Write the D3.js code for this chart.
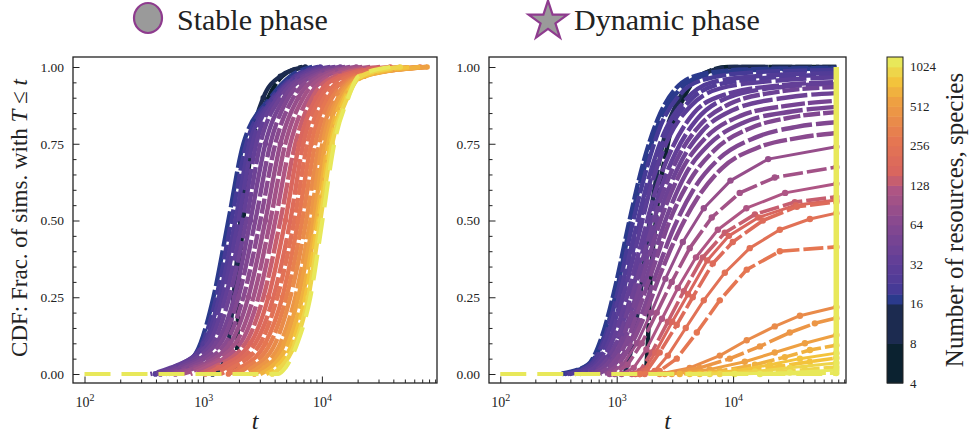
<!DOCTYPE html>
<html>
<head>
<meta charset="utf-8">
<script src="https://cdn.jsdelivr.net/npm/d3@7"></script>
<style>
  html, body { margin: 0; padding: 0; background: #ffffff; }
  svg { display: block; }
</style>
</head>
<body>
<svg id="fig" width="974" height="438"></svg>
<script>
// ---------------- data ----------------
// species / resource counts that appear in the colour bar
const speciesLevels = [4, 8, 16, 19, 23, 27, 32, 38, 45, 54, 64, 76, 91, 108, 128, 152, 181, 215, 256, 304, 362, 431, 512, 609, 724, 861, 1024];
const colorbarTicks = [4, 8, 16, 32, 64, 128, 256, 512, 1024];
const yTicks = [0, 0.25, 0.5, 0.75, 1];
const xTicks = [100, 1000, 10000];
const recordStart = 100;      // first logged time

// Stable phase: time t at which each CDF reaches the levels below
const cdfLevels = [0, 0.02, 0.1, 0.25, 0.5, 0.75, 0.9, 0.97, 1];
const stableSpecies = [4, 8, 16, 19, 23, 27, 32, 38, 45, 54, 64, 76, 91, 108, 128, 152, 181, 215, 256, 304, 362, 431, 512, 609, 724, 861, 1024];
const stableTimes = [
  [1760, 1870, 1940, 1980, 2180, 2600, 3540, 4640, 6840],
  [1200, 1400, 1630, 1800, 2060, 2500, 3210, 4470, 7250],
  [510, 670, 950, 1220, 1630, 2180, 3680, 5420, 8300],
  [436, 618, 985, 1290, 1730, 2310, 3820, 5860, 9330],
  [396, 583, 1020, 1370, 1870, 2450, 3970, 6090, 9690],
  [381, 550, 1060, 1450, 1980, 2600, 4050, 6210, 10700],
  [359, 530, 1110, 1540, 2140, 2800, 4210, 6580, 11800],
  [396, 583, 1200, 1660, 2310, 3030, 4470, 6970, 13000],
  [436, 643, 1290, 1830, 2500, 3340, 4830, 7540, 14300],
  [481, 708, 1400, 1980, 2750, 3680, 5210, 8300, 15700],
  [530, 780, 1540, 2180, 3030, 4050, 5740, 8970, 17300],
  [583, 860, 1690, 2400, 3340, 4470, 6330, 9690, 19500],
  [668, 947, 1870, 2650, 3680, 4920, 6970, 10700, 21900],
  [780, 1040, 2060, 2920, 4050, 5420, 7680, 11800, 25600],
  [911, 1200, 2270, 3210, 4470, 5970, 8300, 13000, 31000],
  [1040, 1340, 2500, 3540, 4920, 6450, 8970, 14300, 37700],
  [1200, 1540, 2750, 3900, 5420, 6970, 9690, 15700, 45700],
  [1400, 1760, 3030, 4210, 5860, 7540, 10500, 17300, 55500],
  [1630, 2060, 3340, 4640, 6330, 8140, 11300, 19100, 67300],
  [1870, 2310, 3680, 5020, 6840, 8800, 12200, 20300, 74200],
  [2140, 2600, 4050, 5420, 7390, 9510, 13000, 21100, 77000],
  [2400, 2920, 4470, 5970, 7990, 10100, 13700, 21900, 77000],
  [2700, 3280, 4830, 6330, 8470, 10700, 14300, 22800, 77000],
  [3030, 3680, 5210, 6840, 8970, 11300, 15100, 23200, 67300],
  [3400, 4050, 5630, 7250, 9330, 11800, 15700, 21900, 55500],
  [3820, 4470, 5970, 7680, 9690, 12200, 16400, 21100, 45700],
  [4300, 4920, 6210, 7990, 10100, 12700, 16700, 20300, 37700]
];

// Dynamic phase: (t, CDF) samples of each curve
const dynamicSpecies = [4, 8, 16, 16, 19, 23, 23, 27, 32, 32, 38, 38, 45, 45, 54, 54, 64, 76, 91, 108, 128, 152, 181, 215, 256, 362, 431, 512, 609, 724, 724, 861, 861, 1024, 1024, 1024];
const dynamicTimes = [
  [1780, 1850, 1920, 2170, 2750, 3770, 5170, 9000, 77000],
  [1170, 1370, 1580, 1920, 2490, 3480, 4970, 10300, 77000],
  [324, 563, 758, 980, 1270, 1670, 2250, 3220, 5170, 12600, 77000],
  [340, 575, 775, 1010, 1310, 1720, 2310, 3350, 5400, 14000, 77000],
  [357, 586, 789, 1040, 1350, 1780, 2390, 3480, 5710, 15400, 77000],
  [394, 610, 820, 1080, 1430, 1890, 2590, 3840, 6560, 18700, 77000],
  [380, 620, 850, 1120, 1480, 1950, 2700, 4000, 7000, 20000, 77000],
  [436, 647, 871, 1150, 1520, 2000, 2800, 4240, 7690, 22800, 77000],
  [481, 687, 924, 1220, 1610, 2170, 3030, 4590, 8490, 25200, 77000],
  [520, 720, 980, 1290, 1700, 2280, 3200, 4900, 9000, 26000, 77000],
  [563, 758, 1020, 1350, 1780, 2390, 3410, 5170, 9370, 25200, 77000],
  [590, 800, 1060, 1400, 1850, 2480, 3550, 5400, 10000, 28000, 77000],
  [610, 820, 1080, 1430, 1890, 2540, 3690, 5830, 11400, 30700, 77000],
  [650, 860, 1130, 1500, 1980, 2680, 3900, 6300, 12500, 32000, 77000],
  [687, 906, 1200, 1580, 2080, 2860, 4240, 6960, 13900, 30700, 77000],
  [720, 950, 1260, 1660, 2200, 3050, 4550, 7500, 15500, 35000, 77000],
  [789, 1020, 1350, 1780, 2340, 3280, 4880, 8000, 17000, 37500, 77000],
  [870, 1130, 1490, 1980, 2620, 3700, 5600, 9500, 20000, 77000],
  [961, 1240, 1640, 2210, 2970, 4240, 6560, 11400, 22800, 77000],
  [1100, 1400, 1800, 2450, 3350, 4800, 7400, 13000, 28000, 77000],
  [1350, 1580, 2000, 2750, 3770, 5490, 8490, 15400, 33900, 77000],
  [1450, 1700, 2150, 3000, 4100, 6000, 9200, 16500, 34500, 77000],
  [1580, 1810, 2340, 3280, 4500, 6690, 9940, 18000, 35300, 77000],
  [1740, 2120, 2750, 3920, 5600, 8490, 13900, 25200, 45700, 77000],
  [1580, 2340, 3280, 4880, 7690, 13100, 25200, 77000],
  [2340, 4240, 7690, 13100, 22800, 37500, 77000],
  [2590, 5170, 9370, 17000, 30700, 50400, 77000],
  [2970, 6300, 12600, 22800, 41400, 77000],
  [3480, 7690, 15400, 27800, 45700, 77000],
  [4240, 10300, 20700, 37500, 77000],
  [5170, 12600, 25200, 45700, 77000],
  [6300, 15400, 30700, 77000],
  [7690, 20700, 41400, 77000],
  [10300, 30700, 77000],
  [17000, 77000],
  [100, 77000, 77000]
];
const dynamicFractions = [
  [0, 0.1, 0.25, 0.5, 0.75, 0.9, 0.97, 1, 1],
  [0, 0.1, 0.25, 0.5, 0.75, 0.9, 0.97, 1, 1],
  [0, 0.03, 0.13, 0.29, 0.49, 0.68, 0.83, 0.93, 0.975, 0.992, 0.997],
  [0, 0.03, 0.12, 0.28, 0.49, 0.67, 0.82, 0.92, 0.97, 0.99, 0.995],
  [0, 0.03, 0.12, 0.28, 0.48, 0.66, 0.81, 0.91, 0.96, 0.983, 0.99],
  [0, 0.03, 0.12, 0.27, 0.46, 0.64, 0.79, 0.89, 0.95, 0.972, 0.98],
  [0, 0.03, 0.11, 0.26, 0.45, 0.63, 0.78, 0.88, 0.94, 0.965, 0.975],
  [0, 0.03, 0.11, 0.26, 0.44, 0.62, 0.77, 0.87, 0.93, 0.955, 0.967],
  [0, 0.03, 0.11, 0.25, 0.42, 0.6, 0.74, 0.85, 0.91, 0.94, 0.951],
  [0, 0.03, 0.1, 0.24, 0.41, 0.58, 0.72, 0.83, 0.9, 0.935, 0.945],
  [0, 0.03, 0.11, 0.25, 0.41, 0.57, 0.71, 0.81, 0.88, 0.92, 0.935],
  [0, 0.03, 0.1, 0.23, 0.39, 0.55, 0.69, 0.79, 0.86, 0.9, 0.915],
  [0, 0.03, 0.1, 0.23, 0.38, 0.53, 0.67, 0.77, 0.84, 0.875, 0.89],
  [0, 0.03, 0.1, 0.22, 0.36, 0.51, 0.65, 0.75, 0.82, 0.855, 0.87],
  [0, 0.03, 0.1, 0.22, 0.35, 0.5, 0.63, 0.73, 0.8, 0.835, 0.853],
  [0, 0.03, 0.09, 0.2, 0.33, 0.47, 0.6, 0.7, 0.77, 0.805, 0.82],
  [0, 0.03, 0.1, 0.2, 0.32, 0.45, 0.57, 0.67, 0.74, 0.77, 0.785],
  [0, 0.03, 0.1, 0.2, 0.31, 0.43, 0.54, 0.63, 0.7, 0.74],
  [0, 0.03, 0.1, 0.2, 0.3, 0.41, 0.51, 0.59, 0.64, 0.674],
  [0, 0.02, 0.08, 0.18, 0.28, 0.38, 0.47, 0.54, 0.59, 0.62],
  [0, 0.01, 0.07, 0.17, 0.27, 0.38, 0.46, 0.52, 0.56, 0.577],
  [0, 0.01, 0.07, 0.17, 0.26, 0.37, 0.45, 0.51, 0.55, 0.567],
  [0, 0.01, 0.07, 0.16, 0.25, 0.36, 0.43, 0.5, 0.545, 0.56],
  [0, 0.01, 0.06, 0.15, 0.24, 0.33, 0.41, 0.47, 0.505, 0.524],
  [0, 0.01, 0.05, 0.135, 0.24, 0.34, 0.4, 0.414],
  [0, 0.02, 0.06, 0.11, 0.155, 0.19, 0.218],
  [0, 0.02, 0.05, 0.09, 0.135, 0.165, 0.182],
  [0, 0.015, 0.04, 0.07, 0.1, 0.127],
  [0, 0.01, 0.03, 0.055, 0.078, 0.094],
  [0, 0.01, 0.03, 0.05, 0.068],
  [0, 0.01, 0.025, 0.04, 0.052],
  [0, 0.008, 0.02, 0.036],
  [0, 0.006, 0.014, 0.023],
  [0, 0.005, 0.013],
  [0, 0.003],
  [0, 0, 1]
];

// colour map (dark navy -> purple -> orange -> yellow), position on log2 axis
const cmapStops = [0, 0.125, 0.25, 0.285, 0.375, 0.5, 0.6, 0.645, 0.75, 0.875, 0.94, 1];
const cmapColors = ['#0b2230', '#1c2b50', '#2b3a8c', '#4a3a97', '#633f97', '#8a4a8f', '#b05683', '#d8645f', '#e57652', '#eea042', '#f3c43c', '#e8e85a'];

// ---------------- drawing ----------------
const serif = '"Liberation Serif", "DejaVu Serif", serif';
const ink = '#222222';
const svg = d3.select('#fig');

const cmap = d3.scaleLinear().domain(cmapStops).range(cmapColors).interpolate(d3.interpolateRgb);
const colorOf = n => cmap((Math.log2(n) - 2) / 8);

const yTop = 57, yBot = 383;
const tDomain = [80, 93300];
const y = d3.scaleLinear().domain([-0.0293, 1.0326]).range([yBot, yTop]);

function makePanel(x0, x1, id) {
  const x = d3.scaleLog().domain(tDomain).range([x0, x1]);
  svg.append('clipPath').attr('id', id).append('rect')
    .attr('x', x0).attr('y', yTop).attr('width', x1 - x0).attr('height', yBot - yTop);
  const g = svg.append('g');
  const plot = g.append('g').attr('clip-path', `url(#${id})`);
  return { x, g, plot, x0, x1 };
}

function drawAxes(p) {
  const { x, g, x0, x1 } = p;
  // y axis, ticks pointing inward
  const minorY = d3.range(1, 20).map(k => k * 0.05).filter(v => Math.abs(v * 4 - Math.round(v * 4)) > 1e-6);
  g.append('g').attr('transform', `translate(${x0},0)`)
    .call(d3.axisLeft(y).tickValues(minorY).tickSize(-3.5).tickFormat(''))
    .call(a => a.select('.domain').remove());
  const ya = g.append('g').attr('transform', `translate(${x0},0)`)
    .call(d3.axisLeft(y).tickValues(yTicks).tickSize(-6.5).tickPadding(9).tickFormat(d3.format('.2f')));
  ya.select('.domain').remove();
  ya.selectAll('text').attr('font-family', serif).attr('font-size', 13.5).attr('fill', ink);

  // x axis (log), ticks pointing inward
  const minorX = [];
  [100, 1000, 10000].forEach(dec => { for (let k = 2; k <= 9; k++) minorX.push(k * dec); });
  g.append('g').attr('transform', `translate(0,${yBot})`)
    .call(d3.axisBottom(x).tickValues(minorX.filter(v => v < tDomain[1])).tickSize(-3.5).tickFormat(''))
    .call(a => a.select('.domain').remove());
  const xa = g.append('g').attr('transform', `translate(0,${yBot})`)
    .call(d3.axisBottom(x).tickValues(xTicks).tickSize(-6.5).tickFormat(''));
  xa.select('.domain').remove();
  g.selectAll('.tick line').attr('stroke', ink).attr('stroke-width', 1);
  xa.selectAll('.tick').append('text')
    .attr('y', 24).attr('text-anchor', 'middle').attr('fill', ink)
    .attr('font-family', serif).attr('font-size', 14)
    .each(function (d) {
      const t = d3.select(this);
      t.append('tspan').text('10');
      t.append('tspan').attr('font-size', 10).attr('dy', -6).text(String(Math.round(Math.log10(d))));
    });

  // frame
  g.append('rect').attr('x', x0).attr('y', yTop).attr('width', x1 - x0).attr('height', yBot - yTop)
    .attr('fill', 'none').attr('stroke', ink).attr('stroke-width', 1.3);

  // axis label
  g.append('text').attr('x', (x0 + x1) / 2).attr('y', 429).attr('text-anchor', 'middle')
    .attr('font-family', serif).attr('font-style', 'italic').attr('font-size', 24).attr('fill', ink).text('t');
}

function drawCurve(p, pts, n, style) {
  const { x, plot } = p;
  const col = colorOf(n);
  const line = d3.line().x(d => x(d[0])).y(d => y(d[1])).curve(style.curve || d3.curveLinear);
  plot.append('path').datum(pts)
    .attr('d', line).attr('fill', 'none').attr('stroke', col)
    .attr('stroke-width', style.width).attr('stroke-dasharray', style.dash || null)
    .attr('stroke-dashoffset', style.offset || 0)
    .attr('stroke-linejoin', 'round');
  if (style.markers) {
    plot.append('g').selectAll('circle').data(pts).join('circle')
      .attr('cx', d => x(d[0])).attr('cy', d => y(d[1])).attr('r', style.markers).attr('fill', col);
  }
}

// ---- panel 1 : stable phase ----
const left = makePanel(73, 437, 'clipL');
const leftDash = ['22 3', null, '36 4', '15 3', null, '29 3', '44 5'];
stableSpecies.forEach((n, i) => {
  let pts = stableTimes[i].map((t, j) => [t, cdfLevels[j]]);
  if (n === 1024) pts = [[recordStart, 0]].concat(pts);
  const k = i % leftDash.length;
  const style = n === 1024
    ? { width: 4.2, dash: '26 11', curve: d3.curveMonotoneX }
    : { width: 4.4, dash: leftDash[k], offset: i * 7, markers: leftDash[k] ? 0 : 2.8, curve: d3.curveMonotoneX };
  drawCurve(left, pts, n, style);
});
drawAxes(left);

// ---- panel 2 : dynamic phase ----
const right = makePanel(489, 846, 'clipR');
const rightDash = ['24 3', '40 4', '17 3', '31 4'];
dynamicSpecies.forEach((n, i) => {
  const pts = dynamicTimes[i].map((t, j) => [t, dynamicFractions[i][j]]);
  if (i === dynamicSpecies.length - 1) {
    // runs that never finished: flat at zero, then everything counted at the final time
    drawCurve(right, pts.slice(0, 2), n, { width: 4.2, dash: '26 11' });
    drawCurve(right, pts.slice(1), n, { width: 5.5 });
    return;
  }
  const style = n <= 64
    ? { width: 4.4, dash: rightDash[i % rightDash.length], offset: i * 9, curve: d3.curveMonotoneX }
    : (i % 2 ? { width: 3, markers: 3.2 } : { width: 3.6, dash: '20 4', offset: i * 5, markers: 3.2 });
  drawCurve(right, pts, n, style);
});
drawAxes(right);

// ---- y label ----
const yl = svg.append('text').attr('transform', 'translate(27,218) rotate(-90)')
  .attr('text-anchor', 'middle').attr('font-family', serif).attr('font-size', 23).attr('fill', ink);
yl.append('tspan').text('CDF: Frac. of sims. with ');
yl.append('tspan').attr('font-style', 'italic').text('T');
yl.append('tspan').text(' ≤ ');
yl.append('tspan').attr('font-style', 'italic').text('t');

// ---- colour bar ----
const cbX = 887, cbW = 16;
const cbTop = 1024 * Math.SQRT2 ** 0.5;
const cb = d3.scaleLog().base(2).domain([4, cbTop]).range([yBot, yTop]);
const cbg = svg.append('g');
cbg.selectAll('rect.band').data(speciesLevels).join('rect').attr('class', 'band')
  .attr('x', cbX).attr('width', cbW)
  .attr('y', (d, i) => cb(i + 1 < speciesLevels.length ? speciesLevels[i + 1] : cbTop))
  .attr('height', (d, i) => cb(d) - cb(i + 1 < speciesLevels.length ? speciesLevels[i + 1] : cbTop) + 0.5)
  .attr('fill', d => colorOf(d));
cbg.append('rect').attr('x', cbX).attr('y', yTop).attr('width', cbW).attr('height', yBot - yTop)
  .attr('fill', 'none').attr('stroke', ink).attr('stroke-width', 1);
cbg.selectAll('text.tk').data(colorbarTicks).join('text').attr('class', 'tk')
  .attr('x', cbX + cbW + 7).attr('y', d => cb(d) + 4.5)
  .attr('font-family', serif).attr('font-size', 13).attr('fill', ink).text(d => d);
svg.append('text').attr('transform', 'translate(963,220) rotate(-90)')
  .attr('text-anchor', 'middle').attr('font-family', serif).attr('font-size', 25).attr('fill', ink)
  .text('Number of resources, species');

// ---- phase legend ----
const legendFill = '#9a9a9a', legendEdge = '#8e3b8e';
svg.append('ellipse').attr('cx', 148).attr('cy', 18).attr('rx', 14).attr('ry', 15)
  .attr('fill', legendFill).attr('stroke', legendEdge).attr('stroke-width', 2.2);
svg.append('text').attr('x', 177).attr('y', 30).attr('font-family', serif).attr('font-size', 30)
  .attr('fill', ink).text('Stable phase');
svg.append('path').attr('d', d3.symbol(d3.symbolStar, 470)())
  .attr('transform', 'translate(548,21)')
  .attr('fill', legendFill).attr('stroke', legendEdge).attr('stroke-width', 2.2).attr('stroke-linejoin', 'miter');
svg.append('text').attr('x', 574).attr('y', 30).attr('font-family', serif).attr('font-size', 30)
  .attr('fill', ink).text('Dynamic phase');
</script>
</body>
</html>
